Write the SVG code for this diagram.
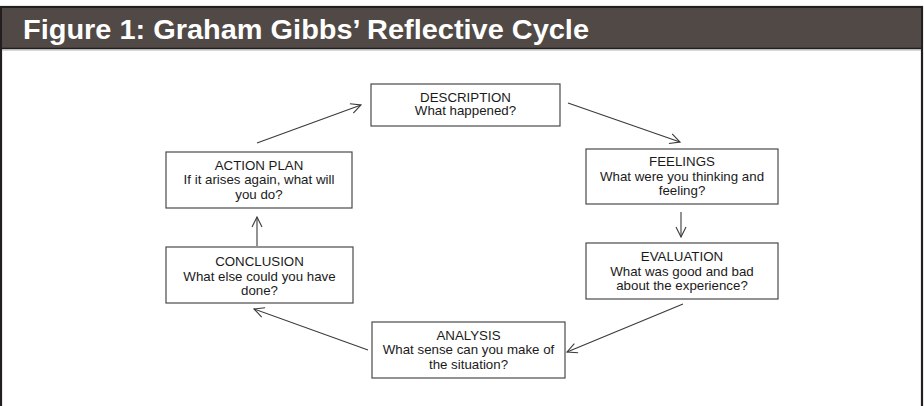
<svg xmlns="http://www.w3.org/2000/svg" width="924" height="406" viewBox="0 0 924 406">
<defs>
<style>
.box{fill:#fff;stroke:#4a4a4a;stroke-width:1.2}
.t{font-family:"Liberation Sans",Arial,sans-serif;font-size:13.3px;fill:#1a1a1a;text-anchor:middle}
.c{fill:none;stroke:#3a3a3a;stroke-width:1.1}
</style>
<marker id="ah" viewBox="0 0 12 12" refX="11" refY="6" markerWidth="12" markerHeight="12" markerUnits="userSpaceOnUse" orient="auto">
<path d="M1,1 L11,6 L1,11" fill="none" stroke="#3a3a3a" stroke-width="1.1"/>
</marker>
</defs>
<rect x="0" y="0" width="924" height="406" fill="#fff"/>
<rect x="1" y="7" width="921" height="420" fill="#fff" stroke="#231f20" stroke-width="2.2"/>
<rect x="2" y="8" width="919" height="40" fill="#514945"/>
<line x1="2" y1="48.5" x2="921" y2="48.5" stroke="#231f20" stroke-width="1.5"/>
<line x1="2" y1="50" x2="921" y2="50" stroke="#b0b0b0" stroke-width="1"/>
<text x="23" y="38.5" font-family="'Liberation Sans',Arial,sans-serif" font-weight="bold" font-size="28" fill="#fff" textLength="566" lengthAdjust="spacingAndGlyphs">Figure 1: Graham Gibbs’ Reflective Cycle</text>

<g id="connectors">
<line class="c" x1="257" y1="143" x2="361" y2="105" marker-end="url(#ah)"/>
<line class="c" x1="568" y1="103" x2="680" y2="142" marker-end="url(#ah)"/>
<line class="c" x1="681" y1="212" x2="681" y2="237" marker-end="url(#ah)"/>
<line class="c" x1="683" y1="304" x2="567" y2="352" marker-end="url(#ah)"/>
<line class="c" x1="368" y1="350" x2="254" y2="309" marker-end="url(#ah)"/>
<line class="c" x1="257" y1="246" x2="257" y2="217" marker-end="url(#ah)"/>
</g>

<g id="description">
<rect class="box" x="371" y="84" width="189" height="42"/>
<text class="t" x="465.5" y="101.5">DESCRIPTION</text>
<text class="t" x="465.5" y="115">What happened?</text>
</g>
<g id="feelings">
<rect class="box" x="586" y="149" width="192" height="55"/>
<text class="t" x="682" y="166">FEELINGS</text>
<text class="t" x="682" y="180.5">What were you thinking and</text>
<text class="t" x="682" y="195">feeling?</text>
</g>
<g id="evaluation">
<rect class="box" x="586" y="243" width="192" height="56"/>
<text class="t" x="682" y="261">EVALUATION</text>
<text class="t" x="682" y="275.5">What was good and bad</text>
<text class="t" x="682" y="290">about the experience?</text>
</g>
<g id="analysis">
<rect class="box" x="372" y="322" width="193" height="56"/>
<text class="t" x="468.5" y="339.5">ANALYSIS</text>
<text class="t" x="468.5" y="354">What sense can you make of</text>
<text class="t" x="468.5" y="368.5">the situation?</text>
</g>
<g id="conclusion">
<rect class="box" x="166" y="247" width="187" height="56"/>
<text class="t" x="259.5" y="266">CONCLUSION</text>
<text class="t" x="259.5" y="280.5">What else could you have</text>
<text class="t" x="259.5" y="295">done?</text>
</g>
<g id="action-plan">
<rect class="box" x="166" y="152" width="186" height="56"/>
<text class="t" x="259" y="169.5">ACTION PLAN</text>
<text class="t" x="259" y="184">If it arises again, what will</text>
<text class="t" x="259" y="198.5">you do?</text>
</g>
</svg>
